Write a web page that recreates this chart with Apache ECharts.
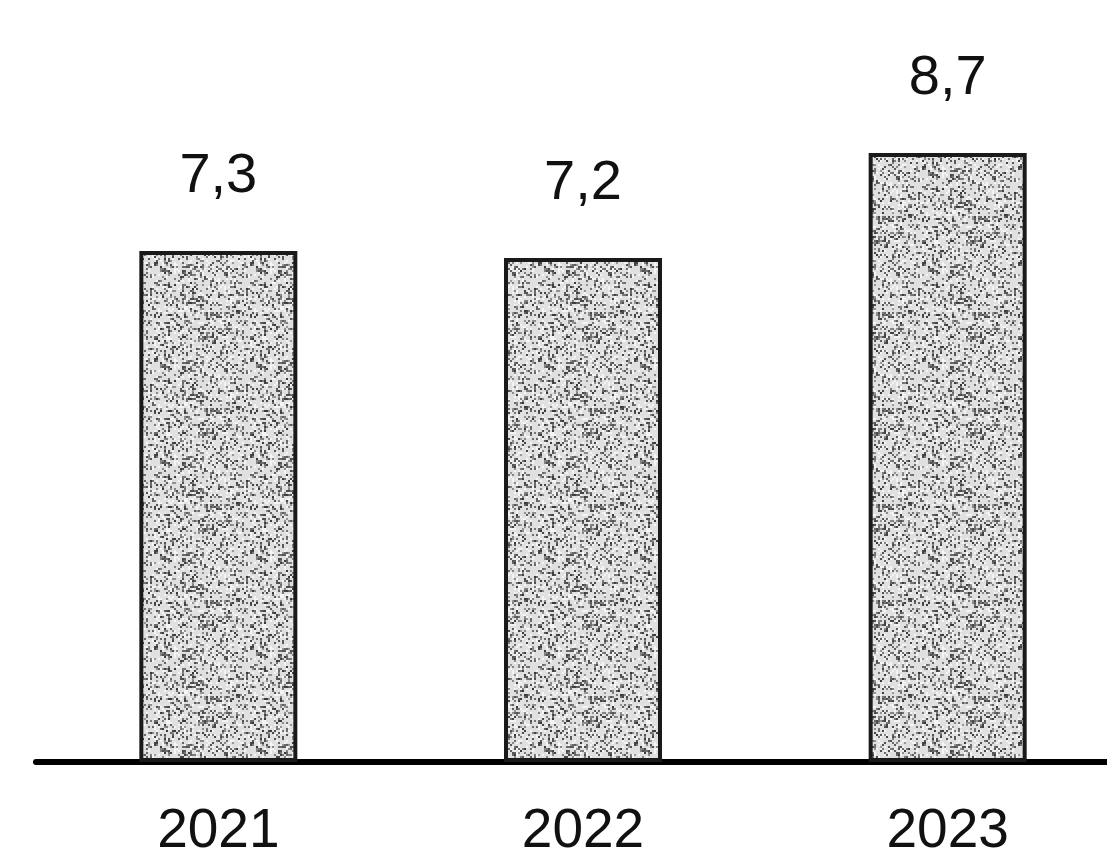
<!DOCTYPE html>
<html>
<head>
<meta charset="utf-8">
<script src="https://cdn.jsdelivr.net/npm/echarts@6/dist/echarts.min.js"></script>
<style>
  html, body { margin: 0; padding: 0; background: #fff; }
  #myChart { width: 1107px; height: 851px; }
</style>
</head>
<body>
<div id="myChart"></div>
<script>
var years = ['2021', '2022', '2023'];
var values = [7.3, 7.2, 8.7];

// speckled grey fill, deterministic hash noise (2px grains)
function makeSpeckle() {
    var c = document.createElement('canvas');
    c.width = 96; c.height = 96;
    var ctx = c.getContext('2d');
    ctx.fillStyle = '#e0e0e0';
    ctx.fillRect(0, 0, 96, 96);
    for (var y = 0; y < 48; y++) {
        for (var x = 0; x < 48; x++) {
            var h = Math.sin(x * 12.9898 + y * 78.233) * 43758.5453;
            h = h - Math.floor(h);
            if (h < 0.28) {
                var g = Math.round(55 + h * 350);
                ctx.fillStyle = 'rgb(' + g + ',' + g + ',' + g + ')';
                ctx.fillRect(x * 2, y * 2, 2, 2);
            } else if (h > 0.88) {
                ctx.fillStyle = '#f4f4f4';
                ctx.fillRect(x * 2, y * 2, 2, 2);
            }
        }
    }
    return c;
}

var myChart = echarts.init(document.getElementById('myChart'));
var option = {
    backgroundColor: '#fff',
    animation: false,
    grid: {
        left: 36,
        top: 62,
        width: 1094,
        bottom: 89,
        outerBoundsMode: 'none'
    },
    xAxis: {
        type: 'category',
        data: years,
        axisLine: { lineStyle: { color: '#000', width: 6 } },
        axisTick: { show: false },
        axisLabel: {
            fontFamily: 'Liberation Sans',
            fontSize: 55,
            color: '#111',
            margin: 42
        }
    },
    yAxis: {
        type: 'value',
        min: 0,
        max: 10,
        show: false
    },
    series: [{
        type: 'bar',
        data: values,
        barWidth: 158,
        itemStyle: {
            color: { image: makeSpeckle(), repeat: 'repeat' },
            borderColor: '#1a1a1a',
            borderWidth: 4
        },
        label: {
            show: true,
            position: 'top',
            distance: 46,
            fontFamily: 'Liberation Sans',
            fontSize: 56,
            color: '#111',
            formatter: function (p) {
                return String(p.value).replace('.', ',');
            }
        }
    }]
};
myChart.setOption(option);
</script>
</body>
</html>
